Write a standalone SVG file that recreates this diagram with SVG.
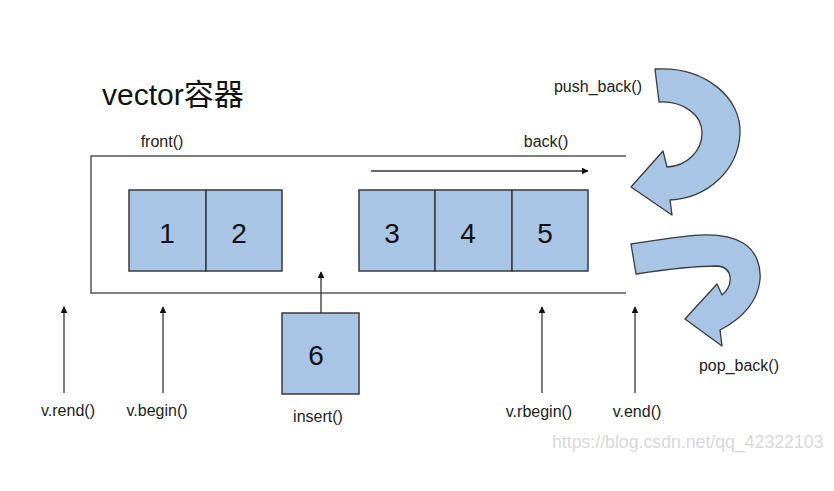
<svg xmlns="http://www.w3.org/2000/svg" width="834" height="491" viewBox="0 0 834 491">
<defs>
<marker id="ah" viewBox="0 0 10 10" refX="9" refY="5" markerWidth="7" markerHeight="7" orient="auto" markerUnits="userSpaceOnUse">
<path d="M0,0 L10,5 L0,10 Z" fill="#111"/>
</marker>
<style>
.box{fill:#a9c5e5;stroke:#3a3a3a;stroke-width:1.5}
.big{fill:#a9c5e5;stroke:#3a3a3a;stroke-width:1.3;stroke-linejoin:round}
.line{fill:none;stroke:#555;stroke-width:1.5}
.arr{fill:none;stroke:#333;stroke-width:1.3;marker-end:url(#ah)}
.lbl{font-family:"Liberation Sans",Arial,sans-serif;font-size:16px;fill:#222;text-anchor:middle}
.num{font-family:"Liberation Sans",Arial,sans-serif;font-size:28px;fill:#111;text-anchor:middle}
.title{font-family:"Liberation Sans","Noto Sans CJK SC",sans-serif;font-size:30px;fill:#111}
.wm{font-family:"Liberation Sans",Arial,sans-serif;font-size:17.7px;fill:#d8d8d8}
</style>
</defs>
<rect width="834" height="491" fill="#fff"/>
<text class="title" x="102" y="105">vector容器</text>
<g id="container">
<path class="line" d="M626,156 H91 V293 H626"/>
</g>
<g id="node-1"><rect class="box" x="129" y="190" width="77" height="81"/><text class="num" x="167" y="243">1</text></g>
<g id="node-2"><rect class="box" x="206" y="190" width="76" height="81"/><text class="num" x="239" y="243">2</text></g>
<g id="node-3"><rect class="box" x="359" y="190" width="76" height="81"/><text class="num" x="392" y="243">3</text></g>
<g id="node-4"><rect class="box" x="435" y="190" width="77" height="81"/><text class="num" x="468" y="243">4</text></g>
<g id="node-5"><rect class="box" x="512" y="190" width="76" height="81"/><text class="num" x="545" y="243">5</text></g>
<g id="node-6"><rect class="box" x="282" y="313" width="77" height="81"/><text class="num" x="316" y="365">6</text></g>
<g id="push-back">
<path class="big" d="M655,69 C705,66 742,98 740,134 C738,170 708,198 670,200 L672,215 L631,187 L663,151 L667,167 C688,166 702,150 702,133 C702,115 684,101 659,102 Z"/>
<text class="lbl" x="598" y="92">push_back()</text>
</g>
<g id="pop-back">
<path class="big" d="M631,244 C680,237 718,228 743,243 C768,258 770,305 720,330 L722,346 L685,319 L717,284 L722,295 C733,286 734,268 718,266 C690,266 662,270 636,274 Z"/>
<text class="lbl" x="739" y="371">pop_back()</text>
</g>
<g id="connectors">
<line class="arr" x1="371" y1="171" x2="588" y2="171"/>
<line class="arr" x1="321" y1="313" x2="321" y2="272"/>
<line class="arr" x1="64" y1="393" x2="64" y2="307"/>
<line class="arr" x1="163" y1="393" x2="163" y2="307"/>
<line class="arr" x1="542" y1="393" x2="542" y2="307"/>
<line class="arr" x1="635" y1="393" x2="635" y2="307"/>
</g>
<g id="labels">
<text class="lbl" x="162" y="147">front()</text>
<text class="lbl" x="546" y="147">back()</text>
<text class="lbl" x="68" y="416">v.rend()</text>
<text class="lbl" x="157" y="416">v.begin()</text>
<text class="lbl" x="318" y="422">insert()</text>
<text class="lbl" x="539" y="417">v.rbegin()</text>
<text class="lbl" x="637" y="417">v.end()</text>
</g>
<text class="wm" x="552" y="448">https://blog.csdn.net/qq_42322103</text>
</svg>
